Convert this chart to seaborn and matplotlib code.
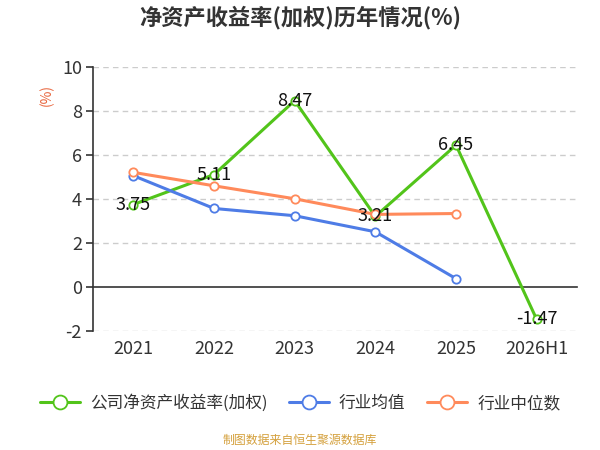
import matplotlib
matplotlib.use("Agg")
import matplotlib.pyplot as plt
import seaborn as sns
import numpy as np
import pandas as pd

categories = ["2021", "2022", "2023", "2024", "2025", "2026H1"]
company_roe = [3.75, 5.11, 8.47, 3.21, 6.45, -1.47]
industry_mean = [5.06, 3.57, 3.24, 2.51, 0.38, np.nan]
industry_median = [5.21, 4.60, 4.01, 3.30, 3.34, np.nan]
series_names = ["公司净资产收益率(加权)", "行业均值", "行业中位数"]
colors = ["#52c41a", "#4e7ce6", "#ff8a5b"]
yticks = [-2, 0, 2, 4, 6, 8, 10]

sns.set_theme(style="white")
plt.rcParams["font.family"] = ["Noto Sans CJK SC", "DejaVu Sans"]
plt.rcParams["axes.unicode_minus"] = False

fig = plt.figure(figsize=(6, 4.5), dpi=100)
ax = fig.add_axes([93/600, 1-331/450, (577-93)/600, (331-67)/450])

x = np.arange(len(categories))
all_vals = [company_roe, industry_mean, industry_median]
for vals, name, c in zip(all_vals, series_names, colors):
    df = pd.DataFrame({"x": x, "y": vals}).dropna()
    sns.lineplot(data=df, x="x", y="y", ax=ax, color=c, linewidth=2.2,
                 marker="o", markersize=6, markerfacecolor="white",
                 markeredgecolor=c, markeredgewidth=1.3, label=name, zorder=3)

for i, v in enumerate(company_roe):
    ax.text(i, v, f"{v:.2f}", ha="center", va="center", fontsize=13,
            color="#111111", zorder=5)

ax.set_xlim(-0.5, len(categories) - 0.5)
ax.set_ylim(-2, 10)
ax.set_yticks(yticks)
ax.set_yticklabels([str(t) for t in yticks])
for t in yticks:
    if t != 0:
        ax.axhline(t, color="#cccccc", linestyle=(0, (4, 3)), linewidth=1, zorder=1)

for s in ["top", "right"]:
    ax.spines[s].set_visible(False)
ax.spines["left"].set_color("#333333")
ax.spines["left"].set_linewidth(1.2)
ax.spines["bottom"].set_position(("data", 0))
ax.spines["bottom"].set_color("#333333")
ax.spines["bottom"].set_linewidth(1.2)

ax.set_xticks(x)
ax.set_xticklabels(categories)
ax.set_xticks(np.arange(len(categories) + 1) - 0.5, minor=True)
ax.tick_params(axis="x", which="major", length=0, pad=38, labelsize=13, labelcolor="#333333")
ax.tick_params(axis="x", which="minor", length=5, width=1.2, color="#333333", direction="out")
ax.tick_params(axis="y", which="major", length=5, width=1.2, color="#333333", direction="out",
               labelsize=13, labelcolor="#333333", left=True, pad=3)
ax.set_xlabel("")
ax.set_ylabel("")

fig.text(47/600, 1-95/450, "(%)", rotation=90, color="#e8643c", fontsize=10,
         ha="center", va="center")
fig.text(0.5, 1-18/450, "净资产收益率(加权)历年情况(%)", ha="center", va="center",
         fontsize=16, fontweight="bold", color="#333333")

leg = ax.legend(loc="center", bbox_to_anchor=(300/600, 1-403/450),
                bbox_transform=fig.transFigure, ncol=3, frameon=False,
                fontsize=12, handlelength=2.4, columnspacing=1.3, handletextpad=0.6)
for h in leg.get_lines():
    h.set_markersize(10)
for t in leg.get_texts():
    t.set_color("#333333")

fig.text(0.5, 1-440/450, "制图数据来自恒生聚源数据库", ha="center", va="center",
         fontsize=8.6, color="#d4a03c")

fig.savefig("out.png", dpi=100)
